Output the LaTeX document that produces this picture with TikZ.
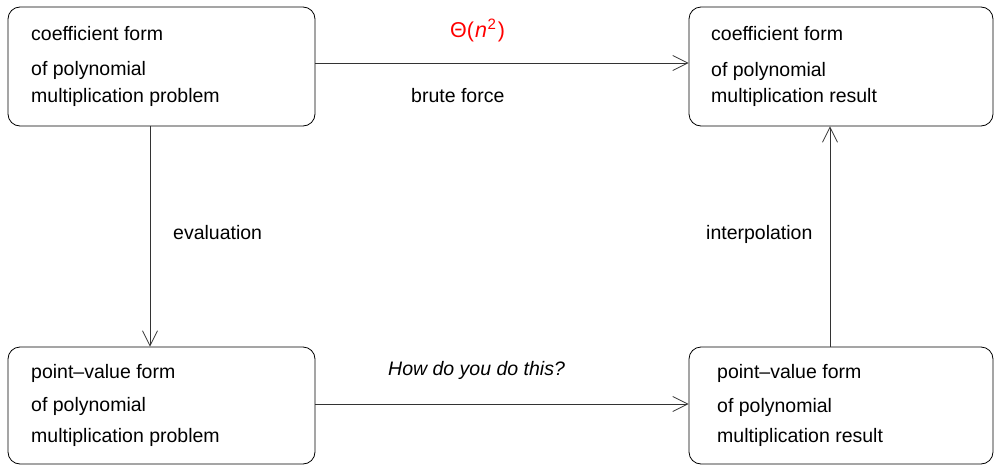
\documentclass[tikz,border=0pt]{standalone}
\usepackage{fontspec}
\setmainfont{Liberation Sans}
\usetikzlibrary{arrows.meta}
\begin{document}
\begin{tikzpicture}[x=1pt,y=-1pt,
  box/.style={draw=black, line width=0.8pt, rounded corners=12pt, inner sep=0pt},
  txt/.style={anchor=base west, inner sep=0pt, font=\fontsize{19.5}{23}\selectfont},
  arr/.style={draw=black!80, line width=0.8pt, -{Straight Barb[length=15pt,width=15pt,line width=0.8pt]}}]
\useasboundingbox (0,0) rectangle (994,466);

% the four boxes
\node[box, minimum width=307pt, minimum height=119pt] (cp) at (161.5,66.5) {};
\node[box, minimum width=304pt, minimum height=119pt] (cr) at (841,66.5) {};
\node[box, minimum width=307pt, minimum height=117pt] (pp) at (161.5,405.5) {};
\node[box, minimum width=304pt, minimum height=117pt] (pr) at (841,405.5) {};

% box contents
\node[txt] (cp1) at (31,40) {coefficient form};
\node[txt] (cp2) at (31,75) {of polynomial};
\node[txt] (cp3) at (31,102) {multiplication problem};

\node[txt] (cr1) at (711,40) {coefficient form};
\node[txt] (cr2) at (711,76) {of polynomial};
\node[txt] (cr3) at (711,102) {multiplication result};

\node[txt] (pp1) at (31,378) {point\textendash value form};
\node[txt] (pp2) at (31,411) {of polynomial};
\node[txt] (pp3) at (31,442) {multiplication problem};

\node[txt] (pr1) at (717,378) {point\textendash value form};
\node[txt] (pr2) at (717,412) {of polynomial};
\node[txt] (pr3) at (717,442) {multiplication result};

% connector levels
\coordinate (ytop) at (0,63);
\coordinate (ybot) at (0,404);
\coordinate (xl) at (150,0);
\coordinate (xr) at (830,0);

% connectors
\draw[arr] (cp.east |- ytop) -- (cr.west |- ytop);
\draw[arr] (xl |- cp.south) -- (xl |- pp.north);
\draw[arr] (pp.east |- ybot) -- (pr.west |- ybot);
\draw[arr] (xr |- pr.north) -- (xr |- cr.south);

% connector labels
\node[txt, anchor=base west, text=red, font=\fontsize{21.5}{25}\selectfont] (cost) at (450,37) {Θ(\kern1pt\textit{n}\kern0.5pt\textsuperscript{2}\kern1.5pt)};
\node[txt] (brute) at (411,102) {brute force};
\node[txt] (eval) at (173,239) {evaluation};
\node[txt] (interp) at (706,239) {interpolation};
\node[txt] (how) at (388,375) {\itshape How do you do this?};
\end{tikzpicture}
\end{document}
